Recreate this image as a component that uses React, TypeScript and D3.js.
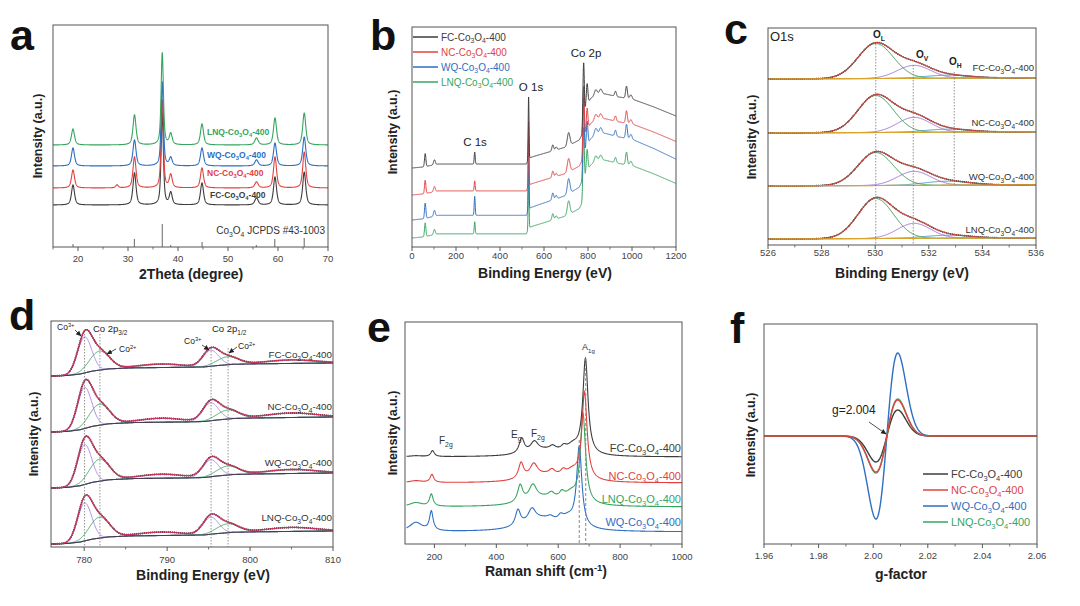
import React from 'react';
import * as d3 from 'd3';

const FONT = '"Liberation Sans", Arial, Helvetica, sans-serif';

// ---------- shared series ----------
const seriesNames = ['FC', 'NC', 'WQ', 'LNQ'];
const seriesColors = ['#3d3d3d', '#e2423f', '#2d6fc3', '#37a55f'];

// ---------- (a) XRD ----------
const xrdPos = [19.0, 27.8, 31.3, 36.85, 38.55, 44.8, 55.7, 59.4, 65.25];
const xrdHwhm = [0.36, 0.3, 0.36, 0.27, 0.34, 0.36, 0.4, 0.36, 0.36];
const xrdFC = [20, 0, 32, 92, 12, 22, 7, 28, 33];
const xrdNC = [18, 3, 31, 88, 13, 20, 6, 31, 36];
const xrdWQ = [18, 0, 26, 84, 8, 18, 6, 23, 29];
const xrdLNQ = [16, 0, 30, 92, 11, 21, 7, 27, 32];
const xrdBase = [42, 59, 81, 102];
const jcpdsPos = [19.0, 31.27, 36.85, 38.55, 44.81, 55.66, 59.36, 65.24];
const jcpdsH = [3, 8, 23, 2, 5, 2, 8, 9];
const xrdTicks = [20, 30, 40, 50, 60, 70];
const xrdMinor = [15, 25, 35, 45, 55, 65];

// ---------- (b) XPS survey ----------
const surveyBgX = [0, 50, 120, 520, 532, 560, 700, 760, 775, 790, 810, 840, 880, 940, 1000, 1100, 1200];
const surveyBgY = [0, 1, 4, 4, 10, 12, 21, 28, 34, 61, 69, 74, 74, 71, 69, 61, 52];
const surveyPeakPos = [60, 102, 530, 640, 655, 712, 780, 796, 835, 858, 925, 975, 995];
const surveyPeakH = [13, 5, 62, 6, 3, 13, 62, 21, 5, 5, 5, 12, 4];
const surveyPeakSig = [3, 4, 1.8, 4, 4, 6, 3.2, 3.5, 6, 6, 4, 4, 5];
const surveyC1sPos = 285;
const surveyC1s = [12, 10, 19, 12];
const surveyOffset = [79, 52, 27, 9];
const surveyScale = [1.0, 1.03, 1.17, 1.05];
const surveyTicks = [0, 200, 400, 600, 800, 1000, 1200];
const surveyMinor = [100, 300, 500, 700, 900, 1100];

// ---------- (c) O 1s ----------
const o1sCenters = [530.02, 531.45, 532.7];
const o1sSigma = [0.66, 0.62, 0.85];
const o1sFC = [35, 13, 3];
const o1sNC = [37, 15, 3];
const o1sWQ = [33, 14, 4];
const o1sLNQ = [40, 15, 3];
const o1sBase = [166, 112, 59, 6];
const o1sLabelY = [71, 126, 180, 233];
const o1sTicks = [526, 528, 530, 532, 534, 536];
const o1sMinor = [527, 529, 531, 533, 535];

// ---------- (d) Co 2p ----------
const co2pCenters = [780.05, 781.85, 795.25, 797.3, 789.3, 805.0];
const co2pSigma = [0.85, 1.2, 0.95, 1.3, 2.6, 3.0];
const co2pFC = [36, 19, 16, 8, 3.5, 3.5];
const co2pNC = [41, 21, 18, 9, 4, 4.5];
const co2pWQ = [40, 22, 17, 9, 4, 4];
const co2pLNQ = [38, 21, 17, 9, 3.5, 4];
const co2pBase = [171, 115, 59, 3];
const co2pRise = [13, 15, 15, 13];
const shirleyX = [776, 778, 779.5, 781, 783, 786, 792, 794.5, 796, 798, 801, 810];
const shirleyF = [0, 0.04, 0.15, 0.38, 0.55, 0.63, 0.67, 0.7, 0.8, 0.9, 0.94, 1];
const co2pLabelY = [358, 410, 466, 521];
const co2pTicks = [780, 790, 800, 810];
const co2pMinor = [785, 795, 805];

// ---------- (e) Raman ----------
const ramanHwhm = [25, 7, 10, 15, 12, 10, 25, 10, 70];
const ramanPosFC = [140, 194, 482, 523, 582, 618, 648, 688, 560];
const ramanPosNC = [140, 192, 480, 521, 580, 616, 646, 685, 560];
const ramanPosLNQ = [140, 190, 477, 518, 578, 612, 642, 680, 555];
const ramanPosWQ = [140, 190, 470, 515, 575, 608, 632, 668, 550];
const ramanHFC = [1, 6, 15, 10, 4, 4, 8, 95, 6];
const ramanHNC = [2, 8, 16, 13, 5, 5, 8, 87, 7];
const ramanHLNQ = [4, 12, 17, 15, 5, 6, 9, 89, 8];
const ramanHWQ = [9, 19, 16, 13, 3, 5, 8, 80, 12];
const ramanBase = [87, 61, 37, 12]; // FC, NC, LNQ, WQ
const ramanOrder = ['FC', 'NC', 'LNQ', 'WQ'];
const ramanLabelY = [452, 480, 503, 526];
const ramanTicks = [200, 400, 600, 800, 1000];
const ramanMinor = [300, 500, 700, 900];

// ---------- (f) EPR ----------
const eprAmp = [26, 36, 83, 37]; // FC, NC, WQ, LNQ
const eprCenter = 2.005;
const eprSigma = 0.004;
const eprTicks = [1.96, 1.98, 2.0, 2.02, 2.04, 2.06];
const eprMinor = [1.97, 1.99, 2.01, 2.03, 2.05];

// ---------- helpers ----------
function pv(x: number, c: number, h: number, w: number) {
  const d = (x - c) / w;
  return h * (0.4 * Math.exp(-Math.LN2 * d * d) + 0.6 / (1 + d * d));
}
function gauss(x: number, c: number, h: number, s: number) {
  const d = (x - c) / s;
  return h * Math.exp(-0.5 * d * d);
}
function lor(x: number, c: number, h: number, w: number) {
  const d = (x - c) / w;
  return h / (1 + d * d);
}

function Rich({ x, y, size, parts, fill = '#333', anchor = 'start', weight = 'normal' }: any) {
  let cur = 0;
  const spans = parts.map(([t, k]: [string, string], i: number) => {
    const target = k === 'sub' ? size * 0.28 : k === 'sup' ? -size * 0.4 : 0;
    const dy = target - cur;
    cur = target;
    return (
      <tspan key={i} dy={dy} fontSize={k === 'n' ? size : size * 0.68}>
        {t}
      </tspan>
    );
  });
  return (
    <text x={x} y={y} fontSize={size} fill={fill} textAnchor={anchor} fontWeight={weight}>
      {spans}
    </text>
  );
}
const coParts = (p: string) => [
  [p + '-Co', 'n'],
  ['3', 'sub'],
  ['O', 'n'],
  ['4', 'sub'],
  ['-400', 'n'],
];

function Frame({ box, x, major, minor, fmt, tickY, titleX, titleY, title, yTitleX, yTitleY, letter, letterX, letterY }: any) {
  return (
    <g>
      <rect x={box.l} y={box.t} width={box.r - box.l} height={box.b - box.t} fill="none" stroke="#555" strokeWidth={1} />
      {major.map((v: number) => (
        <line key={'M' + v} x1={x(v)} x2={x(v)} y1={box.b} y2={box.b + 4} stroke="#555" strokeWidth={1} />
      ))}
      {minor.map((v: number) => (
        <line key={'m' + v} x1={x(v)} x2={x(v)} y1={box.b} y2={box.b + 2.5} stroke="#555" strokeWidth={0.8} />
      ))}
      {major.map((v: number) => (
        <text key={'t' + v} x={x(v)} y={tickY} textAnchor="middle" fontSize={9.5} fill="#444">
          {fmt(v)}
        </text>
      ))}
      <text x={titleX} y={titleY} textAnchor="middle" fontSize={14} fontWeight="bold" fill="#222">
        {title}
      </text>
      <text transform={`translate(${yTitleX},${yTitleY}) rotate(-90)`} textAnchor="middle" fontSize={12.5} fontWeight="bold" fill="#222">
        Intensity (a.u.)
      </text>
      <text x={letterX} y={letterY} fontSize={43} fontWeight="bold" fill="#111">
        {letter}
      </text>
    </g>
  );
}

// ---------- panels ----------
function PanelA() {
  const box = { l: 53, r: 328, t: 25, b: 247 };
  const x = d3.scaleLinear().domain([15, 70]).range([box.l, box.r]);
  const y = d3.scaleLinear().domain([0, 222]).range([box.b, box.t]);
  const line = d3.line<number[]>().x((d) => x(d[0])).y((d) => y(d[1]));
  const xs = d3.range(15, 70.0001, 0.02);
  const sets = [xrdFC, xrdNC, xrdWQ, xrdLNQ];
  const paths = sets.map((hs, i) =>
    line(xs.map((t) => [t, xrdBase[i] + d3.sum(xrdPos, (p, j) => pv(t, p, hs[j], xrdHwhm[j]))]))
  );
  const labels = [
    { i: 3, x: 207, y: 135 },
    { i: 2, x: 207, y: 158 },
    { i: 1, x: 207, y: 176 },
    { i: 0, x: 210, y: 198 },
  ];
  return (
    <g>
      {paths.map((p, i) => (
        <path key={i} d={p || ''} fill="none" stroke={seriesColors[i]} strokeWidth={1.1} />
      ))}
      {jcpdsPos.map((p, i) => (
        <line key={'j' + i} x1={x(p)} x2={x(p)} y1={y(0)} y2={y(jcpdsH[i])} stroke="#555" strokeWidth={0.9} />
      ))}
      {labels.map((l) => (
        <Rich key={l.i} x={l.x} y={l.y} size={8.5} weight="bold" fill={seriesColors[l.i]} parts={coParts(seriesNames[l.i])} />
      ))}
      <Rich x={325} y={234} size={10} anchor="end" fill="#333" parts={[['Co', 'n'], ['3', 'sub'], ['O', 'n'], ['4', 'sub'], [' JCPDS #43-1003', 'n']]} />
      <Frame box={box} x={x} major={xrdTicks} minor={xrdMinor} fmt={(v: number) => String(v)} tickY={262}
        titleX={191} titleY={279} title="2Theta (degree)" yTitleX={42} yTitleY={136} letter="a" letterX={10} letterY={50} />
    </g>
  );
}

function PanelB() {
  const box = { l: 412, r: 676, t: 27, b: 247 };
  const x = d3.scaleLinear().domain([0, 1200]).range([box.l, box.r]);
  const y = d3.scaleLinear().domain([0, 220]).range([box.b, box.t]);
  const bg = d3.scaleLinear().domain(surveyBgX).range(surveyBgY);
  const line = d3.line<number[]>().x((d) => x(d[0])).y((d) => y(d[1]));
  const xs = d3.range(0, 1200.001, 0.5);
  const paths = seriesNames.map((_, i) =>
    line(
      xs.map((t) => {
        const rel = bg(t) + d3.sum(surveyPeakPos, (p, j) => gauss(t, p, surveyPeakH[j], surveyPeakSig[j]));
        return [t, surveyOffset[i] + surveyScale[i] * rel + gauss(t, surveyC1sPos, surveyC1s[i], 2.2)];
      })
    )
  );
  const legY = [37, 52, 67, 82];
  return (
    <g>
      {[3, 2, 1, 0].map((i) => (
        <path key={i} d={paths[i] || ''} fill="none" stroke={seriesColors[i]} strokeWidth={1} />
      ))}
      {seriesNames.map((n, i) => (
        <g key={n}>
          <line x1={413} x2={438} y1={legY[i]} y2={legY[i]} stroke={seriesColors[i]} strokeWidth={1.5} />
          <Rich x={441} y={legY[i] + 3.5} size={10} fill={seriesColors[i]} parts={coParts(n)} />
        </g>
      ))}
      <text x={475} y={146} textAnchor="middle" fontSize={11.5} fill="#222">C 1s</text>
      <text x={531} y={91} textAnchor="middle" fontSize={11.5} fill="#222">O 1s</text>
      <text x={586} y={57} textAnchor="middle" fontSize={11.5} fill="#222">Co 2p</text>
      <Frame box={box} x={x} major={surveyTicks} minor={surveyMinor} fmt={(v: number) => String(v)} tickY={259}
        titleX={545} titleY={278} title="Binding Energy (eV)" yTitleX={397} yTitleY={132} letter="b" letterX={370} letterY={50} />
    </g>
  );
}

function PanelC() {
  const box = { l: 768, r: 1036, t: 28, b: 245 };
  const x = d3.scaleLinear().domain([526, 536]).range([box.l, box.r]);
  const y = d3.scaleLinear().domain([0, 217]).range([box.b, box.t]);
  const line = d3.line<number[]>().x((d) => x(d[0])).y((d) => y(d[1]));
  const xs = d3.range(526, 536.001, 0.02);
  const sets = [o1sFC, o1sNC, o1sWQ, o1sLNQ];
  const compColors = ['#3d9a5c', '#a274d8', '#3aa0c8'];
  const bgF = (t: number, i: number) => o1sBase[i] + (t - 526) * 0.12;
  return (
    <g>
      {sets.map((hs, i) => {
        const comps = hs.map((h, j) => line(xs.map((t) => [t, bgF(t, i) + gauss(t, o1sCenters[j], h, o1sSigma[j])])));
        const env = line(xs.map((t) => [t, bgF(t, i) + d3.sum(hs, (h, j) => gauss(t, o1sCenters[j], h, o1sSigma[j]))]));
        const base = line(xs.map((t) => [t, bgF(t, i)]));
        return (
          <g key={i}>
            {[2, 1, 0].map((j) => (
              <path key={j} d={comps[j] || ''} fill="none" stroke={compColors[j]} strokeWidth={1} />
            ))}
            <path d={env || ''} fill="none" stroke="#222" strokeWidth={1.6} strokeDasharray="1 1" />
            <path d={env || ''} fill="none" stroke="#c4473e" strokeWidth={1.1} />
            <path d={base || ''} fill="none" stroke="#d8a42c" strokeWidth={1.2} />
          </g>
        );
      })}
      <line x1={x(530.02)} x2={x(530.02)} y1={44} y2={box.b} stroke="#777" strokeWidth={0.8} strokeDasharray="1.5 1.5" />
      <line x1={x(531.42)} x2={x(531.42)} y1={65} y2={box.b} stroke="#777" strokeWidth={0.8} strokeDasharray="1.5 1.5" />
      <line x1={x(532.95)} x2={x(532.95)} y1={72} y2={186} stroke="#777" strokeWidth={0.8} strokeDasharray="1.5 1.5" />
      <text x={770} y={41} fontSize={13} fill="#222">O1s</text>
      <Rich x={873} y={38} size={10} weight="bold" fill="#222" parts={[['O', 'n'], ['L', 'sub']]} />
      <Rich x={916} y={58} size={10} weight="bold" fill="#222" parts={[['O', 'n'], ['V', 'sub']]} />
      <Rich x={949} y={65} size={10} weight="bold" fill="#222" parts={[['O', 'n'], ['H', 'sub']]} />
      {seriesNames.map((n, i) => (
        <Rich key={n} x={1034} y={o1sLabelY[i]} size={9.5} anchor="end" fill="#333" parts={coParts(n)} />
      ))}
      <Frame box={box} x={x} major={o1sTicks} minor={o1sMinor} fmt={(v: number) => String(v)} tickY={256}
        titleX={902} titleY={278} title="Binding Energy (eV)" yTitleX={756} yTitleY={137} letter="c" letterX={724} letterY={44} />
    </g>
  );
}

function PanelD() {
  const box = { l: 51, r: 333, t: 321, b: 547 };
  const x = d3.scaleLinear().domain([776, 810]).range([box.l, box.r]);
  const y = d3.scaleLinear().domain([0, 226]).range([box.b, box.t]);
  const shirley = d3.scaleLinear().domain(shirleyX).range(shirleyF);
  const line = d3.line<number[]>().x((d) => x(d[0])).y((d) => y(d[1]));
  const xs = d3.range(776, 810.001, 0.05);
  const sets = [co2pFC, co2pNC, co2pWQ, co2pLNQ];
  const compColor = ['#b48be8', '#45ad6a', '#b48be8', '#45ad6a'];
  const arrow = (x1: number, y1: number, x2: number, y2: number) => (
    <line x1={x1} y1={y1} x2={x2} y2={y2} stroke="#222" strokeWidth={0.8} markerEnd="url(#arrowHead)" />
  );
  return (
    <g>
      {sets.map((hs, i) => {
        const bgF = (t: number) => co2pBase[i] + co2pRise[i] * shirley(t);
        const comps = [0, 1, 2, 3].map((j) => line(xs.map((t) => [t, bgF(t) + gauss(t, co2pCenters[j], hs[j], co2pSigma[j])])));
        const env = line(xs.map((t) => [t, bgF(t) + d3.sum(hs, (h, j) => gauss(t, co2pCenters[j], h, co2pSigma[j]))]));
        const base = line(xs.map((t) => [t, bgF(t)]));
        return (
          <g key={i}>
            {comps.map((c, j) => (
              <path key={j} d={c || ''} fill="none" stroke={compColor[j]} strokeWidth={1} />
            ))}
            <path d={base || ''} fill="none" stroke="#4b3a5a" strokeWidth={1.1} />
            <path d={env || ''} fill="none" stroke="#222" strokeWidth={1.8} strokeDasharray="1 1" />
            <path d={env || ''} fill="none" stroke="#c8335c" strokeWidth={1.3} />
          </g>
        );
      })}
      {[780.05, 781.9, 795.3, 797.35].map((v, k) => (
        <line key={k} x1={x(v)} x2={x(v)} y1={k < 2 ? 334 : 348} y2={box.b} stroke="#777" strokeWidth={0.8} strokeDasharray="1.5 1.5" />
      ))}
      <Rich x={57} y={330} size={8.5} fill="#222" parts={[['Co', 'n'], ['3+', 'sup']]} />
      {arrow(75, 330, 81, 336)}
      <Rich x={93} y={332} size={9.5} fill="#222" parts={[['Co 2p', 'n'], ['3/2', 'sub']]} />
      <Rich x={119} y={352} size={8.5} fill="#222" parts={[['Co', 'n'], ['2+', 'sup']]} />
      {arrow(116, 349, 107, 354)}
      <Rich x={212} y={332} size={9.5} fill="#222" parts={[['Co 2p', 'n'], ['1/2', 'sub']]} />
      <Rich x={184} y={344} size={8.5} fill="#222" parts={[['Co', 'n'], ['3+', 'sup']]} />
      {arrow(202, 345, 209, 350)}
      <Rich x={238} y={349} size={8.5} fill="#222" parts={[['Co', 'n'], ['2+', 'sup']]} />
      {arrow(237, 347, 229, 353)}
      {seriesNames.map((n, i) => (
        <Rich key={n} x={332} y={co2pLabelY[i]} size={9.8} anchor="end" fill="#333" parts={coParts(n)} />
      ))}
      <Frame box={box} x={x} major={co2pTicks} minor={co2pMinor} fmt={(v: number) => String(v)} tickY={563}
        titleX={203} titleY={580} title="Binding Energy (eV)" yTitleX={38} yTitleY={434} letter="d" letterX={9} letterY={330} />
    </g>
  );
}

function PanelE() {
  const box = { l: 405, r: 682, t: 322, b: 544 };
  const x = d3.scaleLinear().domain([105, 1000]).range([box.l, box.r]);
  const y = d3.scaleLinear().domain([0, 222]).range([box.b, box.t]);
  const line = d3.line<number[]>().x((d) => x(d[0])).y((d) => y(d[1]));
  const xs = d3.range(110, 1000.001, 1);
  const posSets: any = { FC: ramanPosFC, NC: ramanPosNC, LNQ: ramanPosLNQ, WQ: ramanPosWQ };
  const hSets: any = { FC: ramanHFC, NC: ramanHNC, LNQ: ramanHLNQ, WQ: ramanHWQ };
  const colorOf = (n: string) => seriesColors[seriesNames.indexOf(n)];
  const paths = ramanOrder.map((n, i) =>
    line(xs.map((t) => [t, ramanBase[i] + d3.sum(posSets[n], (p: number, j: number) => lor(t, p, hSets[n][j], ramanHwhm[j]))]))
  );
  return (
    <g>
      {[3, 2, 1, 0].map((i) => (
        <path key={i} d={paths[i] || ''} fill="none" stroke={colorOf(ramanOrder[i])} strokeWidth={1.1} />
      ))}
      <line x1={x(668)} x2={x(668)} y1={440} y2={box.b} stroke="#888" strokeWidth={1} strokeDasharray="3 2" />
      <line x1={x(689)} x2={x(689)} y1={358} y2={box.b} stroke="#888" strokeWidth={1} strokeDasharray="3 2" />
      <Rich x={439} y={444} size={10} fill="#333" parts={[['F', 'n'], ['2g', 'sub']]} />
      <Rich x={511} y={438} size={10} fill="#333" parts={[['E', 'n'], ['g', 'sub']]} />
      <Rich x={531} y={437} size={10} fill="#333" parts={[['F', 'n'], ['2g', 'sub']]} />
      <Rich x={582} y={350} size={9} fill="#333" parts={[['A', 'n'], ['1g', 'sub']]} />
      {ramanOrder.map((n, i) => (
        <Rich key={n} x={681} y={ramanLabelY[i]} size={11} anchor="end" fill={colorOf(n)} parts={coParts(n)} />
      ))}
      <Frame box={box} x={x} major={ramanTicks} minor={ramanMinor} fmt={(v: number) => String(v)} tickY={560}
        titleX={546} titleY={576} title={<><tspan>Raman shift (cm</tspan><tspan dy={-5.5} fontSize={9.5}>-1</tspan><tspan dy={5.5}>)</tspan></>}
        yTitleX={397} yTitleY={433} letter="e" letterX={367} letterY={342} />
    </g>
  );
}

function PanelF() {
  const box = { l: 764, r: 1037, t: 324, b: 544 };
  const x = d3.scaleLinear().domain([1.96, 2.06]).range([box.l, box.r]);
  const y = d3.scaleLinear().domain([-108, 112]).range([box.b, box.t]);
  const line = d3.line<number[]>().x((d) => x(d[0])).y((d) => y(d[1]));
  const xs = d3.range(1.96, 2.06 + 1e-9, 0.0002);
  const deriv = (t: number, a: number) => {
    const d = (t - eprCenter) / eprSigma;
    return a * d * Math.exp(0.5 * (1 - d * d));
  };
  const paths = eprAmp.map((a) => line(xs.map((t) => [t, deriv(t, a)])));
  const legY = [474, 490, 506, 522];
  return (
    <g>
      {[2, 0, 3, 1].map((i) => (
        <path key={i} d={paths[i] || ''} fill="none" stroke={seriesColors[i]} strokeWidth={1.4} />
      ))}
      <text x={832} y={414} fontSize={12} fill="#222">g=2.004</text>
      <line x1={869} y1={422} x2={886} y2={434} stroke="#222" strokeWidth={0.8} markerEnd="url(#arrowHead)" />
      {seriesNames.map((n, i) => (
        <g key={n}>
          <line x1={923} x2={948} y1={legY[i]} y2={legY[i]} stroke={seriesColors[i]} strokeWidth={1.5} />
          <Rich x={951} y={legY[i] + 4} size={11} fill={seriesColors[i]} parts={coParts(n)} />
        </g>
      ))}
      <Frame box={box} x={x} major={eprTicks} minor={eprMinor} fmt={(v: number) => v.toFixed(2)} tickY={559}
        titleX={901} titleY={579} title="g-factor" yTitleX={755} yTitleY={435} letter="f" letterX={730} letterY={343} />
    </g>
  );
}

export default function App() {
  return (
    <div style={{ position: 'absolute', left: 0, top: 0, width: 1080, height: 606, background: '#fff' }}>
      <svg width={1080} height={606} viewBox="0 0 1080 606" fontFamily={FONT} style={{ display: 'block' }}>
        <defs>
          <marker id="arrowHead" markerUnits="userSpaceOnUse" markerWidth={6} markerHeight={6} refX={5} refY={3} orient="auto">
            <path d="M0,0.5 L5.5,3 L0,5.5 Z" fill="#222" />
          </marker>
        </defs>
        <rect width={1080} height={606} fill="#fff" />
        <PanelA />
        <PanelB />
        <PanelC />
        <PanelD />
        <PanelE />
        <PanelF />
      </svg>
    </div>
  );
}
